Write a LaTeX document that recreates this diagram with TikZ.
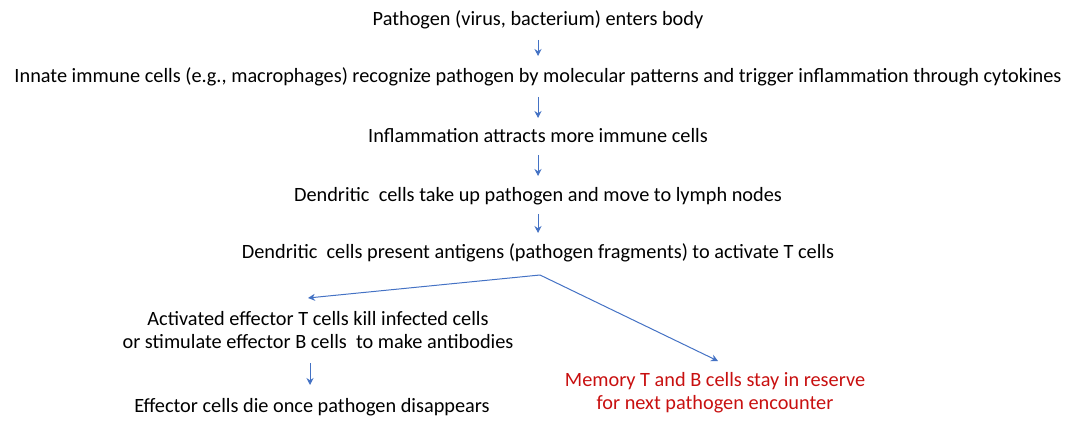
\documentclass[tikz,border=0pt]{standalone}
\usepackage{fontspec}
\setmainfont{Carlito}
\usetikzlibrary{arrows.meta}
\definecolor{ab}{RGB}{68,114,196}
\definecolor{rd}{RGB}{200,16,16}
\begin{document}
\begin{tikzpicture}[x=1pt,y=-1pt,
  t/.style={font=\fontsize{20.3}{23}\selectfont,inner sep=1pt,align=center},
  a/.style={draw=ab,line width=1pt,-{Stealth[length=7pt,width=7pt]}}]
\useasboundingbox (0,0) rectangle (1075,427);
\node[t] (n1) at (538,20) {Pathogen (virus, bacterium) enters body};
\node[t] (n2) at (538,77) {Innate immune cells (e.g., macrophages) recognize pathogen by molecular patterns and trigger inflammation through cytokines};
\node[t] (n3) at (538,136) {Inflammation attracts more immune cells};
\node[t] (n4) at (538,196) {Dendritic\ \ cells take up pathogen and move to lymph nodes};
\node[t] (n5) at (538,253) {Dendritic\ \ cells present antigens (pathogen fragments) to activate T cells};
\node[t] (n6) at (318,330) {Activated effector T cells kill infected cells\\or stimulate effector B cells\ \ to make antibodies};
\node[t] (n7) at (312,407) {Effector cells die once pathogen disappears};
\node[t,text=rd] (n8) at (715,393) {Memory T and B cells stay in reserve\\for next pathogen encounter};
\coordinate (s) at (540,275);
\coordinate (e6) at (308,298);
\coordinate (e8) at (718,361);
\draw[a] (538,40) -- (538,56);
\draw[a] (538,97) -- (538,118);
\draw[a] (538,155) -- (538,176);
\draw[a] (538,214) -- (538,233);
\draw[a] (s) -- (e6);
\draw[a] (s) -- (e8);
\draw[a] (310,363) -- (310,385);
\end{tikzpicture}
\end{document}
